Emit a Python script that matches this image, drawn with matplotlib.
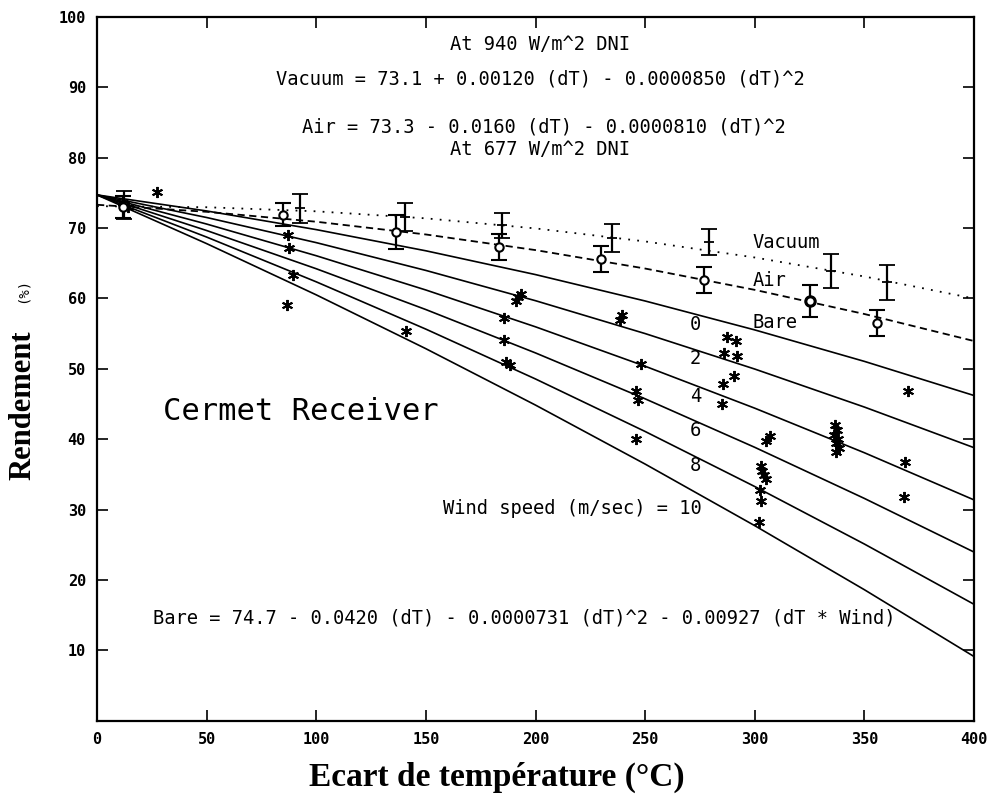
import matplotlib
matplotlib.use('Agg')
import matplotlib.pyplot as plt
import numpy as np

# courbes (dT = 0, 50, ..., 400)
dT = [0, 50, 100, 150, 200, 250, 300, 350, 400]
vacuum_fit = [73.1, 72.95, 72.37, 71.37, 69.94, 68.09, 65.81, 63.11, 59.98]
air_fit = [73.3, 72.30, 70.89, 69.08, 66.86, 64.24, 61.21, 57.78, 53.94]
bare_w0 = [74.7, 72.42, 69.77, 66.76, 63.38, 59.63, 55.52, 51.05, 46.20]
bare_w2 = [74.7, 71.49, 67.92, 63.97, 59.67, 55.00, 49.96, 44.56, 38.79]
bare_w4 = [74.7, 70.56, 66.06, 61.19, 55.96, 50.36, 44.40, 38.07, 31.37]
bare_w6 = [74.7, 69.64, 64.21, 58.41, 52.25, 45.73, 38.84, 31.58, 23.96]
bare_w8 = [74.7, 68.71, 62.35, 55.63, 48.55, 41.09, 33.27, 25.10, 16.54]
bare_w10 = [74.7, 67.78, 60.50, 52.85, 44.84, 36.46, 27.71, 18.61, 9.12]

# mesures sous vide (940 W/m^2)
vac_x = [12.5, 92.4, 140.6, 184.8, 235.0, 279.1, 334.7, 360.1]
vac_y = [73.3, 72.8, 71.6, 70.4, 68.6, 68.0, 63.9, 62.3]
vac_err = [2.0, 2.1, 2.0, 1.8, 2.0, 1.9, 2.4, 2.5]

# mesures sous air
air_x = [12.0, 85.0, 136.4, 183.3, 229.7, 276.9, 325.3, 355.6]
air_y = [73.0, 71.9, 69.4, 67.3, 65.6, 62.6, 59.6, 56.5]
air_err = [1.6, 1.6, 2.4, 1.9, 1.9, 1.8, 2.3, 1.9]

# mesures récepteur nu
bare_x = [12, 14, 27.2, 87.1, 87.4, 89.2, 86.6, 140.8,
          191.0, 192.0, 193.5, 185.8, 185.5, 186.5, 188.5,
          238.6, 239.6, 248.0, 246.0, 246.8, 246.0,
          287.1, 291.3, 286.0, 291.8, 290.6, 285.3, 284.9,
          305.0, 307.0, 302.7, 303.2, 304.0, 305.0, 302.4, 303.0, 302.0,
          336.5, 337.5, 336.0, 338.0, 337.0, 338.5, 337.0,
          369.7, 368.5, 367.9]
bare_y = [73.5, 73.0, 75.1, 69.0, 67.1, 63.3, 59.0, 55.3,
          59.6, 60.2, 60.6, 57.2, 54.1, 50.9, 50.6,
          57.0, 57.7, 50.7, 46.8, 45.6, 40.0,
          54.5, 53.9, 52.2, 51.8, 49.0, 47.8, 45.0,
          39.8, 40.4, 36.2, 35.5, 34.9, 34.3, 32.8, 31.2, 28.2,
          42.0, 41.3, 40.6, 40.0, 39.4, 38.8, 38.2,
          46.8, 36.8, 31.8]

wind_labels = ['0', '2', '4', '6', '8']
wind_label_y = [56.3, 51.5, 46.1, 41.2, 36.2]

mono = 'DejaVu Sans Mono'
serif = 'Liberation Serif'
fs = 13.5  # texte du graphe

fig = plt.figure(figsize=(9.93, 8.0), dpi=100)
ax = fig.add_axes([0.0977, 0.099, 0.8833, 0.880])

for curve in [bare_w0, bare_w2, bare_w4, bare_w6, bare_w8, bare_w10]:
    ax.plot(dT, curve, color='black', lw=1.2)
ax.plot(dT, vacuum_fit, color='black', lw=1.3, linestyle=(0, (1, 4)))
ax.plot(dT, air_fit, color='black', lw=1.3, linestyle=(0, (4, 2.5)))

ax.errorbar(vac_x, vac_y, yerr=vac_err, fmt='+', color='black', ms=7,
            mew=1.3, elinewidth=1.6, capsize=5.5, capthick=1.6)
ax.errorbar(air_x, air_y, yerr=air_err, fmt='o', color='black', mfc='white',
            ms=6, mew=1.5, elinewidth=1.6, capsize=5.5, capthick=1.6)
ax.plot(air_x[6], air_y[6], 'o', color='black', ms=8)
ax.plot(bare_x, bare_y, marker=(6, 2, 0), linestyle='none', color='black', ms=8, mew=1.4)

# textes
ax.text(202, 96, 'At 940 W/m^2 DNI', ha='center', va='center', family=mono, fontsize=fs)
ax.text(202, 91.1, 'Vacuum = 73.1 + 0.00120 (dT) - 0.0000850 (dT)^2',
        ha='center', va='center', family=mono, fontsize=fs)
ax.text(204, 84.3, 'Air = 73.3 - 0.0160 (dT) - 0.0000810 (dT)^2',
        ha='center', va='center', family=mono, fontsize=fs)
ax.text(202, 81.2, 'At 677 W/m^2 DNI', ha='center', va='center', family=mono, fontsize=fs)
ax.text(299, 67.9, 'Vacuum', ha='left', va='center', family=mono, fontsize=fs)
ax.text(299, 62.5, 'Air', ha='left', va='center', family=mono, fontsize=fs)
ax.text(299, 56.6, 'Bare', ha='left', va='center', family=mono, fontsize=fs)
for lab, yy in zip(wind_labels, wind_label_y):
    ax.text(273, yy, lab, ha='center', va='center', family=mono, fontsize=fs)
ax.text(276, 30.1, 'Wind speed (m/sec) = 10', ha='right', va='center',
        family=mono, fontsize=fs)
ax.text(30, 44.0, 'Cermet Receiver', ha='left', va='center', family=mono, fontsize=22)
ax.text(195, 14.6, 'Bare = 74.7 - 0.0420 (dT) - 0.0000731 (dT)^2 - 0.00927 (dT * Wind)',
        ha='center', va='center', family=mono, fontsize=fs)

ax.set_xlim(0, 400)
ax.set_ylim(0, 100)
ax.set_xticks(range(0, 401, 50))
ax.set_yticks(range(10, 101, 10))
ax.tick_params(direction='in', length=8, width=1.2, top=True, right=True,
               labelsize=11, pad=8)
for lab in ax.get_xticklabels() + ax.get_yticklabels():
    lab.set_family(mono)
    lab.set_fontweight('bold')
for sp in ax.spines.values():
    sp.set_linewidth(1.6)

ax.set_xlabel('Ecart de température (°C)', family=serif, fontweight='bold',
              fontsize=24, labelpad=10)
ax.xaxis.set_label_coords(0.456, -0.058)
fig.text(0.023, 0.494, 'Rendement', rotation=90, ha='center', va='center',
         family=serif, fontweight='bold', fontsize=22)
fig.text(0.023, 0.637, '(%)', rotation=90, ha='center', va='center',
         family=mono, fontsize=10)

plt.savefig('out.png', dpi=100)
